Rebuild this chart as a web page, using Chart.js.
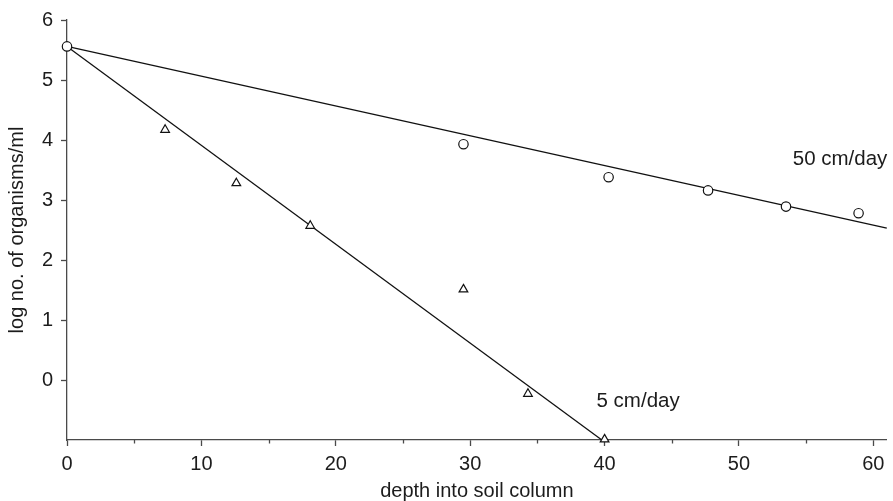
<!DOCTYPE html>
<html>
<head>
<meta charset="utf-8">
<script src="https://cdn.jsdelivr.net/npm/chart.js@4/dist/chart.umd.min.js"></script>
<style>
  html, body { margin: 0; padding: 0; background: #fff; }
  canvas { display: block; }
</style>
</head>
<body>
<canvas id="c" width="893" height="501"></canvas>
<script>
// ---- data ----
const fastDepth = [0, 29.5, 40.3, 47.7, 53.5, 58.9];          // 50 cm/day (circles)
const fastLog   = [5.56, 3.93, 3.38, 3.16, 2.89, 2.78];
const slowDepth = [7.3, 12.6, 18.1, 29.5, 34.3, 40.0];        // 5 cm/day (triangles)
const slowLog   = [4.17, 3.28, 2.57, 1.51, -0.23, -0.99];
const fastFitX  = [0, 61];
const fastFitY  = [5.56, 2.53];
const slowFitX  = [0, 39.8];
const slowFitY  = [5.56, -1.0];
const xTicks    = [0, 10, 20, 30, 40, 50, 60];
const xMinor    = [5, 15, 25, 35, 45, 55];
const yTicks    = [0, 1, 2, 3, 4, 5, 6];
const seriesLabels = ['50 cm/day', '5 cm/day'];

const pts = (xs, ys) => xs.map((x, i) => ({ x: x, y: ys[i] }));

const FONT = 'Liberation Sans, Arial, Helvetica, sans-serif';
const TXT = '#1c1c1c';
const AXIS = '#4a4a4a';

const labelPlugin = {
  id: 'extras',
  afterDraw(chart) {
    const ctx = chart.ctx;
    const xs = chart.scales.x, ys = chart.scales.y;
    // minor x ticks
    ctx.save();
    ctx.strokeStyle = AXIS;
    ctx.lineWidth = 1.3;
    xMinor.forEach(v => {
      const px = Math.round(xs.getPixelForValue(v)) + 0.5;
      ctx.beginPath();
      ctx.moveTo(px, ys.bottom);
      ctx.lineTo(px, ys.bottom + 3.5);
      ctx.stroke();
    });
    // series labels, anchored in data space
    ctx.fillStyle = TXT;
    ctx.font = '20.5px ' + FONT;
    ctx.textBaseline = 'middle';
    ctx.textAlign = 'left';
    ctx.fillText(seriesLabels[0], xs.getPixelForValue(54.0), ys.getPixelForValue(3.68));
    ctx.fillText(seriesLabels[1], xs.getPixelForValue(39.4), ys.getPixelForValue(-0.36));
    ctx.restore();
  }
};

new Chart(document.getElementById('c'), {
  type: 'scatter',
  data: {
    datasets: [
      {
        label: 'fit50', type: 'line', data: pts(fastFitX, fastFitY),
        borderColor: '#111', borderWidth: 1.3, pointRadius: 0, fill: false, order: 3
      },
      {
        label: 'fit5', type: 'line', data: pts(slowFitX, slowFitY),
        borderColor: '#111', borderWidth: 1.3, pointRadius: 0, fill: false, order: 3
      },
      {
        label: seriesLabels[1], data: pts(slowDepth, slowLog),
        pointStyle: 'triangle', pointRadius: 5, borderWidth: 1.2,
        borderColor: '#111', backgroundColor: '#fff', order: 2
      },
      {
        label: seriesLabels[0], data: pts(fastDepth, fastLog),
        pointStyle: 'circle', pointRadius: 4.7, borderWidth: 1.2,
        borderColor: '#111', backgroundColor: '#fff', order: 1
      }
    ]
  },
  plugins: [labelPlugin],
  options: {
    responsive: false,
    devicePixelRatio: 1,
    animation: false,
    clip: false,
    layout: { padding: { top: 19, right: 6, left: 0, bottom: 0 } },
    plugins: { legend: { display: false }, tooltip: { enabled: false } },
    scales: {
      x: {
        type: 'linear', min: 0, max: 61,
        afterFit(s) { s.height = 61; },
        afterBuildTicks(s) { s.ticks = xTicks.map(v => ({ value: v })); },
        border: { display: true, color: AXIS, width: 1.3 },
        grid: { display: true, drawOnChartArea: false, drawTicks: true, tickLength: 6, tickColor: AXIS, tickWidth: 1.3 },
        ticks: { color: TXT, font: { family: FONT, size: 20 }, padding: 6, maxRotation: 0 },
        title: { display: true, text: 'depth into soil column', color: TXT, font: { family: FONT, size: 20 }, padding: { top: 0, bottom: -2 } }
      },
      y: {
        type: 'linear', min: -1, max: 6,
        afterFit(s) { s.width = 67; },
        afterBuildTicks(s) { s.ticks = yTicks.map(v => ({ value: v })); },
        border: { display: true, color: AXIS, width: 1.3 },
        grid: { display: true, drawOnChartArea: false, drawTicks: true, tickLength: 6, tickColor: AXIS, tickWidth: 1.3 },
        ticks: { color: TXT, font: { family: FONT, size: 20 }, padding: 8 },
        title: { display: true, text: 'log no. of organisms/ml', color: TXT, font: { family: FONT, size: 20 }, padding: { top: 5, bottom: 0 } }
      }
    }
  }
});
</script>
</body>
</html>
